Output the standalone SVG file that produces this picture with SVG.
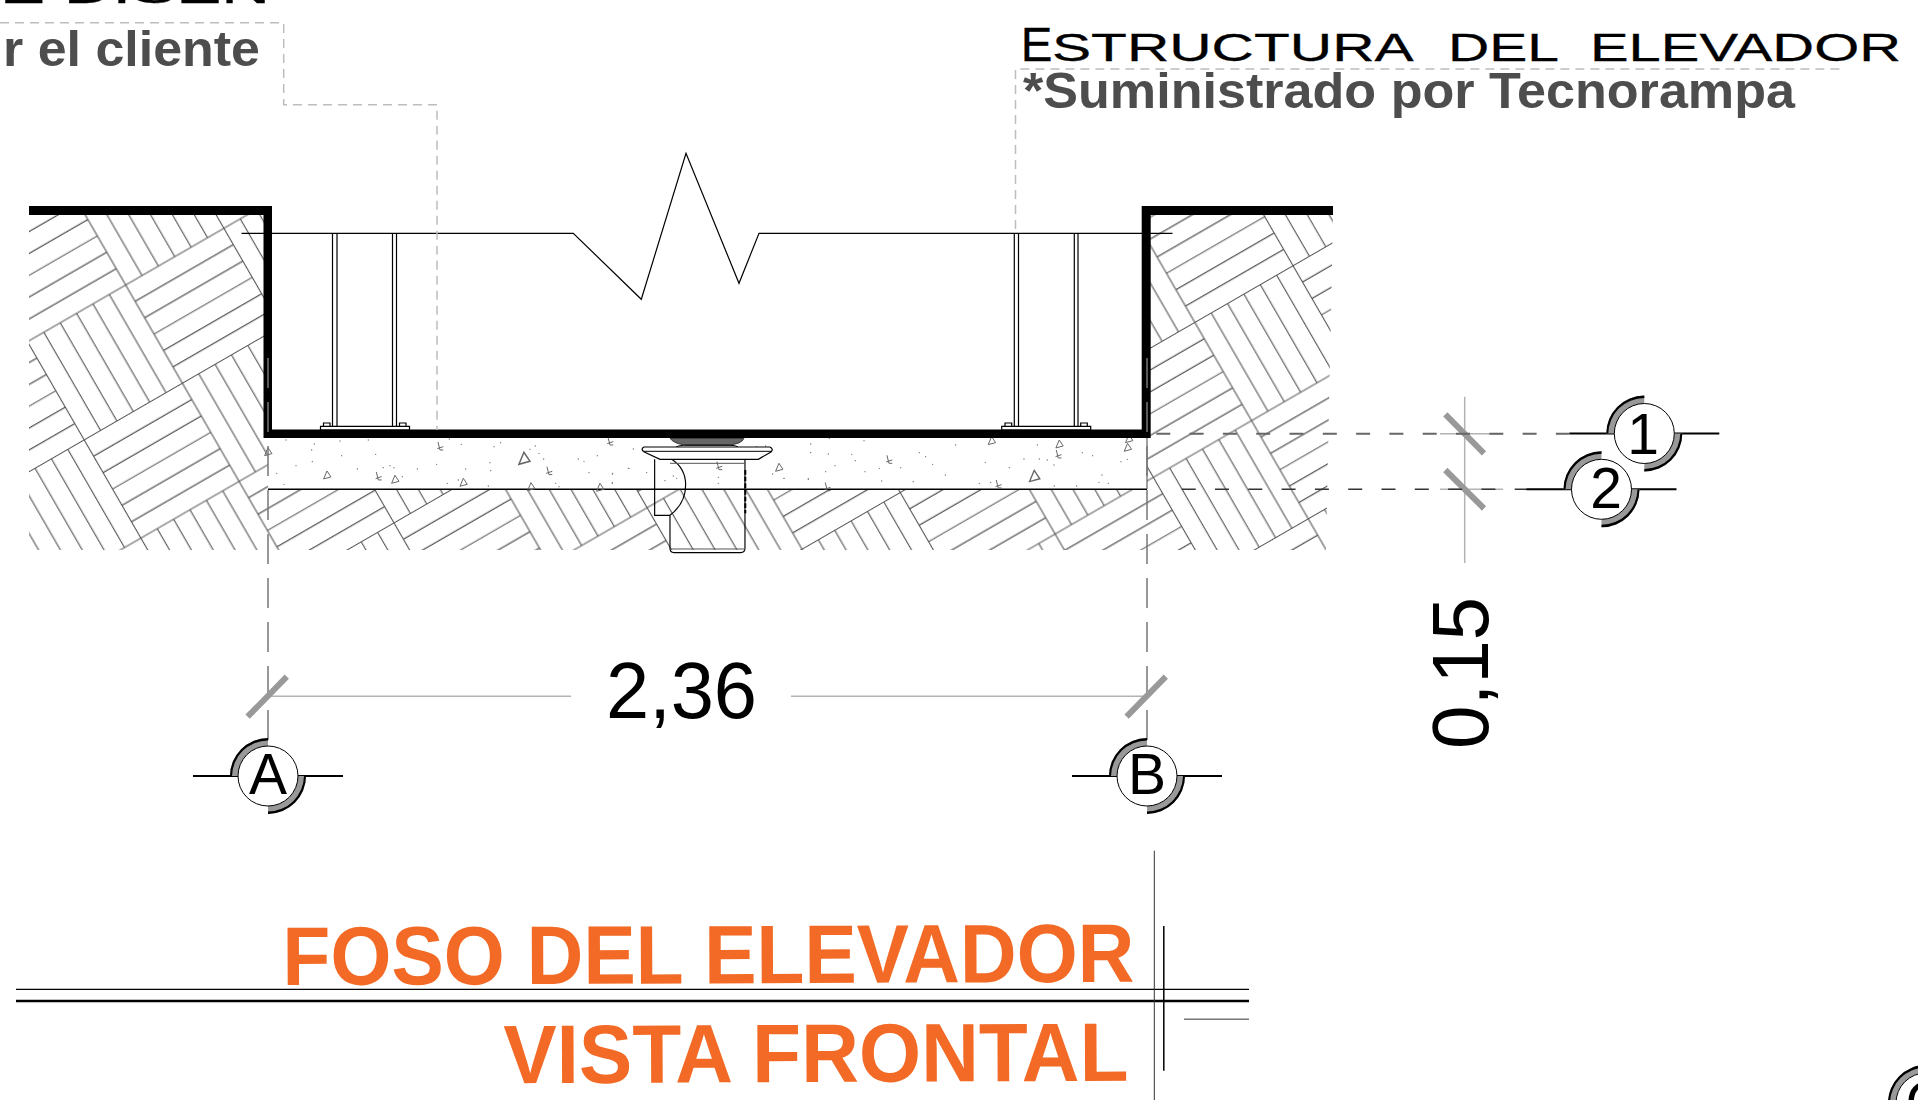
<svg xmlns="http://www.w3.org/2000/svg" xmlns:xlink="http://www.w3.org/1999/xlink" width="1918" height="1100" viewBox="0 0 1918 1100">
<style>
text{font-family:"Liberation Sans",Arial,sans-serif}
.note{font-weight:700;fill:#4d4d4d;font-size:50px}
.head{fill:#000;stroke:#000;stroke-width:.3}
.title{font-weight:700;fill:#f26a25;font-size:83px}
.dim{fill:#000;font-size:80px}
.bub{fill:#000;font-size:57px;text-anchor:middle}
.lead{fill:none;stroke:#bdbdbd;stroke-width:1.5;stroke-dasharray:9 6}
.dimline{fill:none;stroke:#b3b3b3;stroke-width:1.5}
.tick{stroke:#999;stroke-width:6}
.thin{fill:none;stroke:#000;stroke-width:1.2}
.tr{fill:none;stroke:#666;stroke-width:3}
</style>
<defs>
<pattern id="parquet" width="226.8" height="226.8" patternUnits="userSpaceOnUse" patternTransform="translate(125.7 285) rotate(-30)">
<path fill="none" stroke="#555" stroke-width="1.1" d="M0 0H226.8M0 113.4H226.8M0 226.8H226.8M0 0V226.8M113.4 0V226.8M226.8 0V226.8
M0 18.9H113.4M0 37.8H113.4M0 56.7H113.4M0 75.6H113.4M0 94.5H113.4
M113.4 132.3H226.8M113.4 151.2H226.8M113.4 170.1H226.8M113.4 189H226.8M113.4 207.9H226.8
M132.3 0V113.4M151.2 0V113.4M170.1 0V113.4M189 0V113.4M207.9 0V113.4
M18.9 113.4V226.8M37.8 113.4V226.8M56.7 113.4V226.8M75.6 113.4V226.8M94.5 113.4V226.8"/>
</pattern>
<g id="bubble">
<path d="M-75 0H75" stroke="#000" stroke-width="2" fill="none"/>
<path fill="#999" d="M-38 0A38 38 0 0 1 0 -38V-29A29 29 0 0 0 -29 0Z"/>
<path fill="#999" transform="rotate(180)" d="M-38 0A38 38 0 0 1 0 -38V-29A29 29 0 0 0 -29 0Z"/>
<path fill="#000" d="M-38 0A38 38 0 0 1 0 -38V-35.5A36 36 0 0 0 -36 0Z"/>
<path fill="#000" transform="rotate(180)" d="M-38 0A38 38 0 0 1 0 -38V-35.5A36 36 0 0 0 -36 0Z"/>
<circle r="30" fill="#fff" stroke="#000" stroke-width="1"/>
</g>
<path id="t" class="tr" d="M-10 12L0 -12L12 6Z"/>
<path id="k" class="tr" d="M-6 -12L0 12M-8 8L10 2M0 12L10 12"/>
</defs>

<g id="hatch">
<path fill="url(#parquet)" d="M29 215H268V550H29Z"/>
<path fill="url(#parquet)" d="M268 489H1147V550H268Z"/>
<path fill="url(#parquet)" d="M1147 215H1333L1326 550H1147Z"/>
</g>

<g id="concrete">
<path d="M268 489.3H1147" stroke="#000" stroke-width="1.5" fill="none"/>
<path d="M1147 438V489" stroke="#444" stroke-width="1" fill="none"/>
<g transform="translate(260 420) scale(.3333)" fill="none" stroke="#777" stroke-width="4" stroke-linecap="round">
<path d="M78 60h.1M163 72h.1M155 90h.1M240 63h.1M325 60h.1M245 107h.1M347 103h.1M157 125h.1M108 137h.1M50 160h.1M72 193h.1M292 147h.1M370 143h.1M390 137h.1M402 143h.1M472 147h.1M427 170h.1M568 57h.1M604 73h.1M530 133h.1M617 147h.1M562 190h.1M595 180h.1M685 198h.1M702 80h.1M722 68h.1M690 128h.1M692 152h.1M826 78h.1M810 88h.1M837 100h.1M851 117h.1M955 117h.1M972 124h.1M1012 107h.1M987 158h.1M1058 160h.1M1057 188h.1M887 190h.1M897 200h.1M1107 145h.1"/>
</g>
<g transform="translate(480 380) scale(.3333)" fill="none" stroke="#777" stroke-width="4" stroke-linecap="round">
<path d="M530 210h.1M580 288h.1M590 295h.1M555 302h.1M672 210h.1M715 292h.1M715 310h.1M830 200h.1M857 198h.1M878 282h.1M912 295h.1M500 278h.1M445 265h.1M397 282h.1M397 310h.1M460 207h.1M985 297h.1"/>
</g>
<g transform="translate(780 420) scale(.3333)" fill="none" stroke="#777" stroke-width="4" stroke-linecap="round">
<path d="M148 55h.1M252 62h.1M92 72h.1M92 98h.1M145 102h.1M215 103h.1M226 122h.1M165 137h.1M137 155h.1M85 177h.1M12 175h.1M255 155h.1M298 145h.1M362 143h.1M305 183h.1M400 185h.1M418 98h.1M437 110h.1M458 133h.1M496 165h.1M527 75h.1M598 190h.1M632 187h.1M616 127h.1M688 143h.1M732 117h.1M778 117h.1M802 120h.1M822 135h.1M772 75h.1M907 98h.1M938 107h.1M966 165h.1M957 187h.1M985 190h.1M1023 125h.1M1042 118h.1M823 198h.1M890 198h.1"/>
</g>
<g transform="scale(.3333)">
<use href="#t" x="981" y="1425"/><use href="#t" x="1185" y="1438"/><use href="#t" x="1390" y="1447"/><use href="#t" transform="translate(1572 1375) scale(1.5)"/><use href="#t" x="1593" y="1460"/><use href="#t" x="804" y="1355"/>
<use href="#t" x="2337" y="1402"/><use href="#t" x="2975" y="1322"/><use href="#t" x="3178" y="1332"/><use href="#t" transform="translate(3103 1428) scale(1.4)"/><use href="#t" x="3383" y="1342"/><use href="#t" x="3387" y="1316"/><use href="#t" x="1800" y="1462"/>
<use href="#k" x="1320" y="1338"/><use href="#k" x="1135" y="1428"/><use href="#k" x="1647" y="1412"/><use href="#k" x="1830" y="1323"/><use href="#k" x="2157" y="1397"/><use href="#k" x="2667" y="1378"/><use href="#k" x="2482" y="1460"/><use href="#k" x="3175" y="1362"/><use href="#k" x="2995" y="1452"/>
</g>
</g>

<g id="structure">
<path class="thin" d="M241.5 233.3H573.3L641.3 299.3L686 153.3L739 283.3L759 233.3H1172.5"/>
<path class="thin" d="M332.5 233V426M337 233V426M392.5 233V426M396.5 233V426M1014.3 233V426M1018.5 233V426M1074.3 233V426M1078 233V426"/>
<path class="thin" fill="#fff" d="M320.5 426.3H409.5V430H320.5ZM323.5 423H330V426.3H323.5ZM399.5 423H406V426.3H399.5ZM1001.7 426.3H1090.7V430H1001.7ZM1005 423H1011.7V426.3H1005ZM1080.7 423H1087.3V426.3H1080.7Z"/>
<path id="slab" fill="#000" d="M29 206H272V429.5H1141.7V206H1333V215H1150.7V438H263.5V215H29Z"/>
</g>

<g id="anchor" transform="translate(480 380) scale(.3333)">
<path d="M570 175Q585 195 625 195H745Q785 193 792 175Z" fill="#666" stroke="#000" stroke-width="2"/>
<path d="M585 203Q595 196 610 196H750Q770 196 776 203" fill="none" stroke="#000" stroke-width="3"/>
<path d="M492 201H870Q882 208 873 216L835 238H540L493 216Q480 208 492 201Z" fill="#fff" stroke="#000" stroke-width="3.5"/>
<path d="M492 214H875" fill="none" stroke="#000" stroke-width="3"/>
<path d="M524 238V406H570M575 238Q617 265 617 315Q617 370 570 406V505Q570 518 582 518H782Q795 518 795 505V238" fill="none" stroke="#000" stroke-width="3.5"/>
<path d="M570 250H795M570 507H795" fill="none" stroke="#555" stroke-width="3"/>
<path d="M796 270V400" fill="none" stroke="#000" stroke-width="6" stroke-dasharray="14 6"/>
</g>

<g id="connectors">
<path class="lead" d="M0 22.7H283.7V104.7H437V430"/>
<path class="lead" d="M1839.4 69H1015.5V233"/>
<path d="M268 358V745" fill="none" stroke="#777" stroke-width="1.5" stroke-dasharray="30 14"/>
<path d="M1147 358V745" fill="none" stroke="#777" stroke-width="1.5" stroke-dasharray="30 14"/>
<path class="dimline" d="M268 696.3H571M791 696.3H1147"/>
<path class="dimline" d="M1464.7 396.7V563M1440 433.7H1503M1440 489.3H1503"/>
<path class="tick" d="M247.6 716.7L286.8 676.7M1126.6 716.7L1165.8 676.7M1445.3 414.3L1484 453.3M1445.3 470L1484 508.5"/>
<path d="M1156 433.7H1569" fill="none" stroke="#666" stroke-width="2" stroke-dasharray="14 19.3" stroke-dashoffset="-0.3"/>
<path d="M1181.7 489.3H1527" fill="none" stroke="#333" stroke-width="1.5" stroke-dasharray="14 19.3"/>
<path d="M16 989.3H1249" fill="none" stroke="#000" stroke-width="1.2"/>
<path d="M16 1001H1249" fill="none" stroke="#000" stroke-width="2.5"/>
<path d="M1184 1019.3H1249" fill="none" stroke="#777" stroke-width="1.5"/>
<path d="M1154.3 850.7V1100" fill="none" stroke="#333" stroke-width="1"/>
<path d="M1163.8 926V1070.7" fill="none" stroke="#000" stroke-width="1.5"/>
</g>

<g id="bubble-1"><use href="#bubble" x="1644.3" y="433.5"/><text class="bub" x="1643" y="454">1</text></g>
<g id="bubble-2"><use href="#bubble" x="1601.5" y="489.3"/><text class="bub" x="1606" y="507.5">2</text></g>
<g id="bubble-a"><use href="#bubble" x="268" y="776"/><text class="bub" x="268" y="794">A</text></g>
<g id="bubble-b"><use href="#bubble" x="1147" y="776"/><text class="bub" x="1147" y="794">B</text></g>
<g id="bubble-c"><use href="#bubble" x="1926" y="1103"/><text class="bub" x="1926" y="1122">C</text></g>

<g id="labels">
<text class="head" y="3" font-size="39" x="0" textLength="270" lengthAdjust="spacingAndGlyphs">E DISEÑ</text>
<text class="note" x="3" y="66" textLength="257" lengthAdjust="spacingAndGlyphs">r el cliente</text>
<text class="head"><tspan x="1020.7" y="61" font-size="47.5">E</tspan><tspan x="1052" y="60.5" font-size="39" textLength="361.6" lengthAdjust="spacingAndGlyphs">STRUCTURA</tspan><tspan x="1448" y="60.5" font-size="39" textLength="111" lengthAdjust="spacingAndGlyphs">DEL</tspan><tspan x="1590" y="60.5" font-size="39" textLength="311" lengthAdjust="spacingAndGlyphs">ELEVADOR</tspan></text>
<text class="note" x="1023" y="107.5" textLength="772" lengthAdjust="spacingAndGlyphs">*Suministrado por Tecnorampa</text>
<text class="dim" x="606" y="717.5" textLength="151" lengthAdjust="spacingAndGlyphs">2,36</text>
<text class="dim" transform="translate(1488 749) rotate(-90)" textLength="152" lengthAdjust="spacingAndGlyphs">0,15</text>
<text class="title" transform="translate(282.5 985) rotate(-.22)" textLength="852" lengthAdjust="spacingAndGlyphs">FOSO DEL ELEVADOR</text>
<text class="title" transform="translate(503.5 1083.3) rotate(-.24)" textLength="625" lengthAdjust="spacingAndGlyphs">VISTA FRONTAL</text>
</g>
</svg>
